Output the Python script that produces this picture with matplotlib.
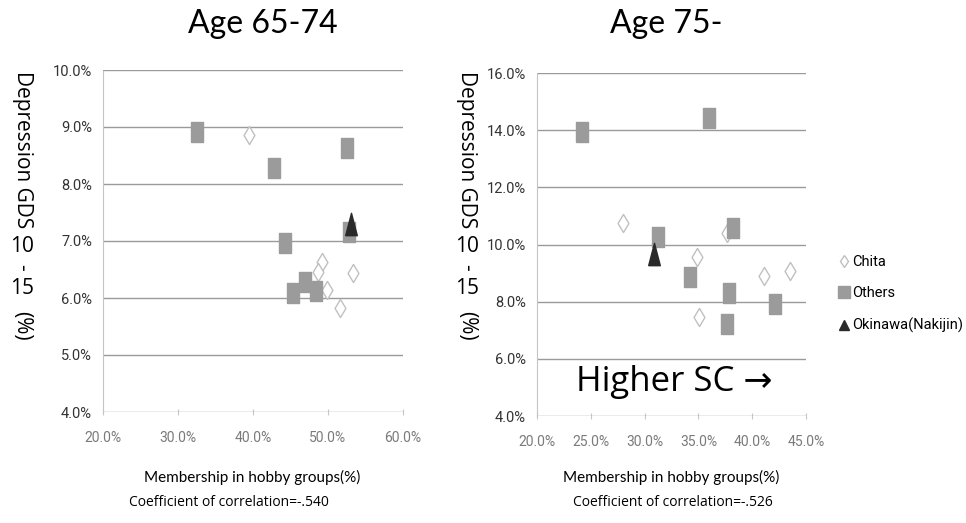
import matplotlib
matplotlib.use('Agg')
import matplotlib.pyplot as plt
from matplotlib.lines import Line2D

# ---- data (percent) ----
# Age 65-74
young_chita_x = [39.5, 49.2, 48.7, 49.9, 53.3, 51.6]
young_chita_y = [8.86, 6.63, 6.46, 6.14, 6.44, 5.82]
young_others_x = [32.5, 42.8, 44.3, 45.3, 46.9, 48.4, 52.5, 52.8]
young_others_y = [8.91, 8.28, 6.96, 6.09, 6.28, 6.12, 8.63, 7.16]
young_oki_x = [53.1]
young_oki_y = [7.30]

# Age 75-
old_chita_x = [28.0, 34.9, 35.1, 37.7, 41.1, 43.5]
old_chita_y = [10.76, 9.57, 7.47, 10.40, 8.90, 9.08]
old_others_x = [24.2, 36.0, 31.2, 38.2, 34.2, 37.8, 37.7, 42.1]
old_others_y = [13.94, 14.43, 10.27, 10.58, 8.87, 8.31, 7.22, 7.92]
old_oki_x = [30.9]
old_oki_y = [9.67]

young_xticks = [20, 30, 40, 50, 60]
young_yticks = [4, 5, 6, 7, 8, 9, 10]
old_xticks = [20, 25, 30, 35, 40, 45]
old_yticks = [4, 6, 8, 10, 12, 14, 16]

narrow = ['Roboto', 'DejaVu Sans']
sans = ['Open Sans', 'DejaVu Sans']
lato = ['Lato', 'DejaVu Sans']

rect = [(-0.3, -0.5), (0.3, -0.5), (0.3, 0.5), (-0.3, 0.5), (-0.3, -0.5)]
tri = [(-0.26, -0.5), (0.26, -0.5), (0.0, 0.5), (-0.26, -0.5)]

fig = plt.figure(figsize=(9.66, 5.23), dpi=100)
ax1 = fig.add_axes([103 / 966, 111 / 523, 300 / 966, 342 / 523])
ax2 = fig.add_axes([537 / 966, 107 / 523, 269 / 966, 343 / 523])


def style(ax, xticks, yticks):
    ax.set_xlim(xticks[0], xticks[-1])
    ax.set_ylim(yticks[0], yticks[-1])
    ax.set_xticks(xticks)
    ax.set_yticks(yticks)
    ax.set_xticklabels(['%.1f%%' % v for v in xticks], fontfamily=narrow,
                       fontsize=10, color='#7a7a7a')
    ax.set_yticklabels(['%.1f%%' % v for v in yticks], fontfamily=narrow,
                       fontsize=10.5, color='#333333')
    ax.yaxis.grid(True, color='#9a9a9a', lw=1)
    ax.set_axisbelow(True)
    for s in ['top', 'right', 'bottom']:
        ax.spines[s].set_visible(False)
    ax.spines['left'].set_color('#c4c4c4')
    ax.spines['left'].set_linestyle((0, (1, 1)))
    ax.tick_params(axis='y', length=0, pad=8)
    ax.tick_params(axis='x', length=4, direction='inout', color='#c8c8c8', pad=12)


def draw(ax, cx, cy, ox, oy, kx, ky):
    ax.scatter(cx, cy, marker='d', s=85, facecolor='white',
               edgecolor='#c0c0c0', linewidth=1, zorder=3)
    ax.scatter(ox, oy, marker=rect, s=220, color='#9b9b9b', zorder=3)
    ax.scatter(kx, ky, marker=tri, s=260, color='#2a2a2a', zorder=4)


draw(ax1, young_chita_x, young_chita_y, young_others_x, young_others_y,
     young_oki_x, young_oki_y)
draw(ax2, old_chita_x, old_chita_y, old_others_x, old_others_y,
     old_oki_x, old_oki_y)
style(ax1, young_xticks, young_yticks)
style(ax2, old_xticks, old_yticks)

# titles
fig.text(263 / 966, 1 - 24 / 523, 'Age 65-74', ha='center', va='center',
         fontsize=23, fontfamily=lato)
fig.text(666 / 966, 1 - 24 / 523, 'Age 75-', ha='center', va='center',
         fontsize=23, fontfamily=lato)

# y labels (vertical text, digits upright)
for x0 in (22, 467):
    fx = x0 / 966
    fig.text(fx, 1 - 150 / 523, 'Depression GDS', rotation=270, ha='center',
             va='center', fontsize=15, fontfamily=sans)
    fig.text(fx, 1 - 247 / 523, '10', ha='center', va='center', fontsize=15,
             fontfamily=sans)
    fig.text(fx, 1 - 267 / 523, '-', rotation=270, ha='center', va='center',
             fontsize=15, fontfamily=sans)
    fig.text(fx, 1 - 289 / 523, '15', ha='center', va='center', fontsize=15,
             fontfamily=sans)
    fig.text(fx, 1 - 326 / 523, '(%)', rotation=270, ha='center', va='center',
             fontsize=15, fontfamily=sans)

# x labels and correlation
fig.text(252 / 966, 1 - 477 / 523, 'Membership in hobby groups(%)', ha='center',
         va='center', fontsize=11, fontfamily=lato)
fig.text(229 / 966, 1 - 502 / 523, 'Coefficient of correlation=-.540',
         ha='center', va='center', fontsize=10, fontfamily=sans)
fig.text(671 / 966, 1 - 477 / 523, 'Membership in hobby groups(%)', ha='center',
         va='center', fontsize=11, fontfamily=lato)
fig.text(673 / 966, 1 - 502 / 523, 'Coefficient of correlation=-.526',
         ha='center', va='center', fontsize=10, fontfamily=sans)

fig.text(674 / 966, 1 - 382 / 523, 'Higher SC \u2192', ha='center', va='center',
         fontsize=25, fontfamily=sans)

# legend
handles = [
    Line2D([], [], ls='', marker='d', ms=6, mfc='white', mec='#c0c0c0'),
    Line2D([], [], ls='', marker='s', ms=8, color='#9b9b9b'),
    Line2D([], [], ls='', marker='^', ms=7, color='#2a2a2a'),
]
fig.legend(handles, ['Chita', 'Others', 'Okinawa(Nakijin)'],
           loc='center left', bbox_to_anchor=(826 / 966, 1 - 294 / 523),
           frameon=False, handlelength=0.6, handletextpad=0.3,
           labelspacing=1.2, prop={'family': narrow, 'size': 10.5})

fig.savefig('out.png', dpi=100)
